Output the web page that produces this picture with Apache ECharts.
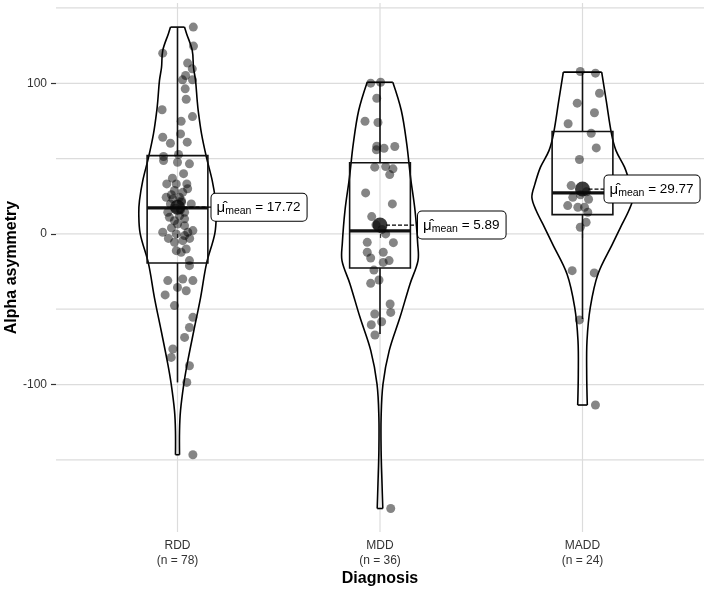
<!DOCTYPE html>
<html>
<head>
<meta charset="utf-8">
<script src="https://cdn.jsdelivr.net/npm/echarts@6/dist/echarts.min.js"></script>
<style>html,body{margin:0;padding:0;background:#fff}#c{width:709px;height:589px}</style>
</head>
<body>
<div id="c"></div>
<script>
// ---------- data ----------
const categories = ['RDD', 'MDD', 'MADD'];
const means = [17.72, 5.89, 29.77];
const yTicks = [-100, 0, 100];
const yGrid = [-150, -100, -50, 0, 50, 100, 150];

const rddValues = [137.3,124.7,120.0,113.4,109.6,105.2,102.3,102.3,96.3,89.4,82.4,77.9,74.8,66.4,64.2,60.9,60.2,52.7,51.4,48.7,47.6,46.5,40,37,33.2,33.2,33.2,30,28.8,27.6,26,24.3,24.3,23.3,22,21,19.9,19.9,17,16,14.4,14.4,12,11.0,10.0,8.8,6.6,5.5,4,2.2,1.1,1.1,0,-1.1,-3,-3,-4.5,-5.6,-10,-11.1,-12.2,-17.7,-21.1,-29.9,-31.0,-31.0,-35.5,-37.7,-40.5,-47.6,-55.4,-62.1,-68.7,-76.4,-82.0,-87.5,-98.6,-146.6];
const rddJitter = [0.078,0.079,-0.073,0.050,0.073,0.040,0.074,0.025,0.038,0.043,-0.076,0.074,0.018,0.015,-0.073,0.048,-0.035,0.005,-0.069,-0.069,0,0.059,0.03,-0.025,-0.053,-0.006,0.046,0.05,-0.015,0.026,-0.03,-0.056,0.010,-0.023,0.02,0.02,-0.035,0.068,-0.01,0.015,-0.048,0.035,0.01,-0.040,0.035,-0.015,0,0.035,-0.03,0.076,-0.073,0.051,-0.006,0.035,0.06,-0.045,0.026,-0.015,0.043,-0.006,0.018,0.059,0.059,0.026,-0.048,0.076,0,0.043,-0.061,-0.015,0.076,0.059,0.035,-0.023,-0.031,0.059,0.046,0.076];

const mddValues = [100.7,100.1,90.1,74.8,74.0,58.2,58.0,56.9,55.8,44.7,44.3,43.2,39.4,27.2,19.9,11.5,6,3,0,-5.6,-5.8,-12.2,-12.2,-16.0,-17.7,-18.9,-24,-30.6,-32.8,-46.5,-52.1,-53.2,-58.3,-60.3,-67.1,-182.3];
const mddJitter = [0.003,-0.046,-0.016,-0.074,-0.010,-0.016,0.073,0.020,-0.018,0.028,-0.026,0.064,0.048,-0.071,0.061,-0.041,-0.02,0.01,0.028,-0.063,0.066,-0.063,0.016,-0.046,0.045,0.016,-0.03,-0.005,-0.046,0.050,0.053,-0.026,0.008,-0.043,-0.025,0.053];

const maddValues = [107.8,106.7,93.4,86.8,80.4,73.1,66.8,57.1,49.4,32.1,28,26,24.3,23,18.8,17.7,17.7,14.4,7.7,4.4,-24.4,-25.9,-57.1,-113.6];
const maddJitter = [-0.011,0.064,0.084,-0.026,0.059,-0.071,0.043,0.068,-0.015,-0.056,0.02,-0.01,-0.048,0.03,-0.073,-0.023,0.010,0.026,0.018,-0.011,-0.051,0.058,-0.015,0.064];

// box stats: [lower whisker, Q1, median, Q3, upper whisker]
const boxRDD = [-98.6, -19.3, 17.3, 52.0, 137.3];
const boxMDD = [-66.4, -22.6, 2.0, 47.2, 100.7];
const boxMADD = [-56.5, 12.8, 27.2, 68.0, 107.4];

// violin density profiles: [value, density relative to the global maximum]
const rddDensity = [[137.3,0.138],[133.1,0.178],[121.8,0.291],[110.5,0.316],[101.9,0.356],[88.6,0.389],[81.9,0.409],[66.6,0.474],[50.7,0.573],[35.4,0.686],[22.1,0.751],[13.5,0.765],[0.2,0.737],[-19.7,0.573],[-42.4,0.455],[-64.3,0.322],[-86.3,0.192],[-99.6,0.125],[-117.5,0.059],[-130.8,0.040],[-146.6,0.040]];
const mddDensity = [[100.7,0.253],[81.9,0.421],[59.8,0.528],[37.6,0.603],[15.5,0.692],[-6.6,0.745],[-17.7,0.751],[-33.2,0.593],[-55.4,0.395],[-77.5,0.182],[-99.7,0.059],[-121.9,0.022],[-144.0,0.022],[-165.9,0.04],[-182.3,0.055]];
const maddDensity = [[107.4,0.379],[88.6,0.468],[66.4,0.573],[55.3,0.662],[44.3,0.830],[33.2,0.939],[24.3,1.0],[15.5,0.915],[4.4,0.751],[-6.6,0.593],[-26.6,0.306],[-48.8,0.154],[-70.9,0.089],[-93.1,0.083],[-113.6,0.095]];

// ---------- derived ----------
const groups = [rddValues, mddValues, maddValues];
const jitters = [rddJitter, mddJitter, maddJitter];
const boxes = [boxRDD, boxMDD, boxMADD];
const dens = [rddDensity, mddDensity, maddDensity];
const VIOLIN_HALF = 0.25, BOX_HALF = 0.15;

const pointData = [];
groups.forEach((vals, g) => vals.forEach((v, i) => pointData.push([g + 1 + jitters[g][i], v])));

const FONT = '"Liberation Sans", Arial, Helvetica, sans-serif';
const chart = echarts.init(document.getElementById('c'));

chart.setOption({
  animation: false,
  backgroundColor: '#fff',
  grid: { left: 56, right: 5, top: 3, bottom: 57, outerBoundsMode: 'none', containLabel: false },
  xAxis: {
    type: 'value', min: 0.4, max: 3.6,
    axisLine: { show: false }, splitLine: { show: false },
    axisTick: { show: true, customValues: [1, 2, 3], length: 4, lineStyle: { color: '#333', width: 1.2 } },
    axisLabel: {
      customValues: [1, 2, 3], margin: 6, fontSize: 12, lineHeight: 15, color: '#333', fontFamily: FONT,
      formatter: v => { const i = Math.round(v) - 1; return categories[i] + '\n(n = ' + groups[i].length + ')'; }
    },
    name: 'Diagnosis', nameLocation: 'middle', nameGap: 39, nameMoveOverlap: false,
    nameTextStyle: { fontSize: 16, fontWeight: 'bold', color: '#000', fontFamily: FONT }
  },
  yAxis: {
    type: 'value', min: -197.9, max: 153.3,
    axisLine: { show: false }, splitLine: { show: false },
    axisTick: { show: true, customValues: yTicks, length: 5, lineStyle: { color: '#333', width: 1.2 } },
    axisLabel: { customValues: yTicks, margin: 9, fontSize: 12, color: '#333', fontFamily: FONT },
    name: 'Alpha asymmetry', nameLocation: 'middle', nameGap: 36, nameRotate: 90, nameMoveOverlap: false,
    nameTextStyle: { fontSize: 16, fontWeight: 'bold', color: '#000', fontFamily: FONT }
  },
  series: [
    { // grid lines
      type: 'custom', silent: true, z: 0,
      data: yGrid.map(v => [0, v]).concat([1, 2, 3].map(v => [1, v])),
      renderItem: (params, api) => {
        const cs = params.coordSys, kind = api.value(0), v = api.value(1);
        if (kind === 0) {
          const y = api.coord([1, v])[1];
          return { type: 'line', shape: { x1: cs.x, y1: y, x2: cs.x + cs.width, y2: y }, style: { stroke: '#dcdcdc', lineWidth: 1.2 } };
        }
        const x = api.coord([v, 0])[0];
        return { type: 'line', shape: { x1: x, y1: cs.y, x2: x, y2: cs.y + cs.height }, style: { stroke: '#dcdcdc', lineWidth: 1.2 } };
      }
    },
    { // violins
      type: 'custom', silent: true, z: 2,
      data: [0, 1, 2],
      renderItem: (params, api) => {
        const g = params.dataIndex, d = dens[g], cx = g + 1;
        const left = d.map(p => api.coord([cx - VIOLIN_HALF * p[1], p[0]]));
        const right = d.map(p => api.coord([cx + VIOLIN_HALF * p[1], p[0]]));
        const n = d.length - 1;
        const st = { fill: 'none', stroke: '#000', lineWidth: 1.6 };
        return { type: 'group', children: [
          { type: 'polyline', shape: { points: left, smooth: 0.35 }, style: st },
          { type: 'polyline', shape: { points: right, smooth: 0.35 }, style: st },
          { type: 'line', shape: { x1: left[0][0], y1: left[0][1], x2: right[0][0], y2: right[0][1] }, style: st },
          { type: 'line', shape: { x1: left[n][0], y1: left[n][1], x2: right[n][0], y2: right[n][1] }, style: st }
        ] };
      }
    },
    { // boxes
      type: 'custom', silent: true, z: 3,
      data: [0, 1, 2],
      renderItem: (params, api) => {
        const g = params.dataIndex, b = boxes[g], cx = g + 1;
        const p = (x, y) => api.coord([x, y]);
        const tl = p(cx - BOX_HALF, b[3]), br = p(cx + BOX_HALF, b[1]);
        const ml = p(cx - BOX_HALF, b[2]), mr = p(cx + BOX_HALF, b[2]);
        const wTop = p(cx, b[4]), wQ3 = p(cx, b[3]), wQ1 = p(cx, b[1]), wBot = p(cx, b[0]);
        const st = { stroke: '#111', lineWidth: 1.6, fill: 'none' };
        return { type: 'group', children: [
          { type: 'line', shape: { x1: wTop[0], y1: wTop[1], x2: wQ3[0], y2: wQ3[1] }, style: st },
          { type: 'line', shape: { x1: wQ1[0], y1: wQ1[1], x2: wBot[0], y2: wBot[1] }, style: st },
          { type: 'rect', shape: { x: tl[0], y: tl[1], width: br[0] - tl[0], height: br[1] - tl[1] }, style: st },
          { type: 'line', shape: { x1: ml[0], y1: ml[1], x2: mr[0], y2: mr[1] }, style: { stroke: '#111', lineWidth: 3.2 } }
        ] };
      }
    },
    { // jittered points
      type: 'scatter', silent: true, z: 4,
      data: pointData, symbolSize: 9,
      itemStyle: { color: 'rgba(0,0,0,0.6)', borderWidth: 0 }
    },
    { // mean labels
      type: 'custom', silent: true, z: 5,
      data: [0, 1, 2],
      renderItem: (params, api) => {
        const g = params.dataIndex, c = api.coord([g + 1, means[g]]);
        const off = [34, 38, 22][g];
        return { type: 'group', children: [
          { type: 'line', shape: { x1: c[0] + 6, y1: c[1], x2: c[0] + off, y2: c[1] }, style: { stroke: '#000', lineWidth: 1.3, lineDash: [4, 2] } },
          { type: 'text', x: c[0] + off, y: c[1], style: {
              text: '{mu|\u03bc\u0302}{sub|mean}{val| = ' + means[g].toFixed(2) + '}',
              align: 'left', verticalAlign: 'middle',
              backgroundColor: '#fff', borderColor: '#000', borderWidth: 1, borderRadius: 4, padding: [5, 6, 4, 5],
              fontFamily: FONT, fill: '#000',
              rich: {
                mu: { fontSize: 15, lineHeight: 18, fontFamily: FONT, fill: '#000' },
                sub: { fontSize: 10.5, lineHeight: 12, verticalAlign: 'bottom', fontFamily: FONT, fill: '#000' },
                val: { fontSize: 13.5, lineHeight: 18, fontFamily: FONT, fill: '#000' }
              }
          } }
        ] };
      }
    },
    { // means
      type: 'scatter', silent: true, z: 6,
      data: means.map((m, i) => [i + 1, m]), symbolSize: 15,
      itemStyle: { color: '#0a0a0a' }
    }
  ]
});
</script>
</body>
</html>
